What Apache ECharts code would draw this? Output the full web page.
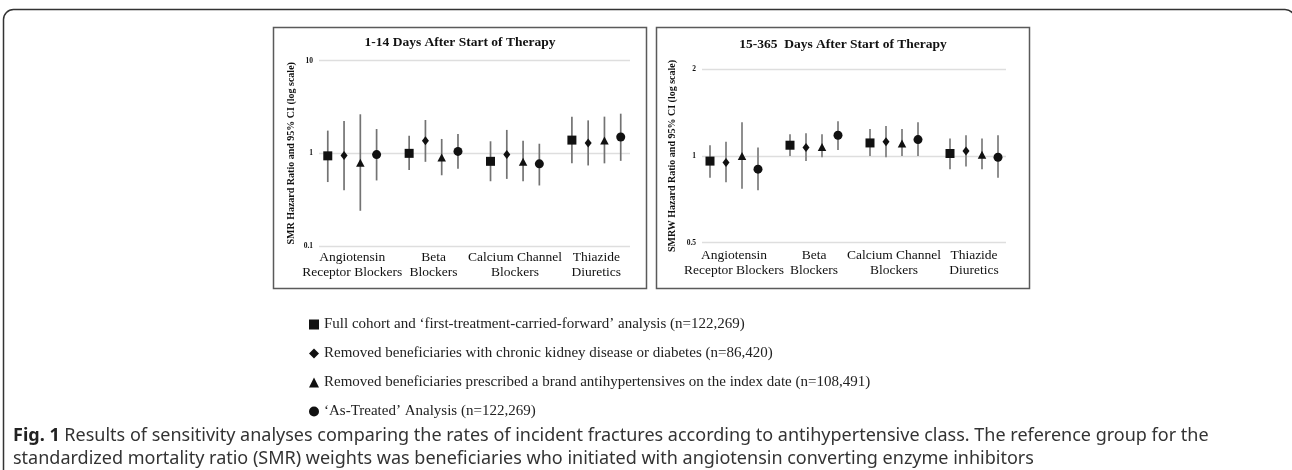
<!DOCTYPE html>
<html>
<head>
<meta charset="utf-8">
<script src="https://cdn.jsdelivr.net/npm/echarts@6/dist/echarts.min.js"></script>
<style>
html,body{margin:0;padding:0;background:#fff;}
#chart{width:1292px;height:470px;}
</style>
</head>
<body>
<div id="chart"></div>
<script>
// ---- data ----
const categories = ['Angiotensin\nReceptor Blockers', 'Beta\nBlockers', 'Calcium Channel\nBlockers', 'Thiazide\nDiuretics'];
const seriesNames = [
  'Full cohort and \u2018first-treatment-carried-forward\u2019 analysis (n=122,269)',
  'Removed beneficiaries with chronic kidney disease or diabetes (n=86,420)',
  'Removed beneficiaries prescribed a brand antihypertensives on the index date (n=108,491)',
  '\u2018As-Treated\u2019 Analysis (n=122,269)'
];
const panelTitles = ['1-14 Days After Start of Therapy', '15-365  Days After Start of Therapy'];
const yAxisNames = ['SMR Hazard Ratio and 95% CI (log scale)', 'SMRW Hazard Ratio and 95% CI (log scale)'];
const earlyTicks = [0.1, 1, 10];
const lateTicks = [0.5, 1, 2];

// 1-14 days (left panel)
const earlyFullEst = [0.94, 1.00, 0.82, 1.39];
const earlyFullLo = [0.49, 0.66, 0.50, 0.78];
const earlyFullHi = [1.76, 1.55, 1.35, 2.49];
const earlyCkdEst = [0.95, 1.37, 0.97, 1.29];
const earlyCkdLo = [0.40, 0.81, 0.53, 0.74];
const earlyCkdHi = [2.23, 2.29, 1.79, 2.27];
const earlyBrandEst = [0.79, 0.90, 0.81, 1.38];
const earlyBrandLo = [0.24, 0.58, 0.50, 0.78];
const earlyBrandHi = [2.64, 1.43, 1.37, 2.49];
const earlyTreatedEst = [0.97, 1.05, 0.77, 1.50];
const earlyTreatedLo = [0.51, 0.68, 0.45, 0.83];
const earlyTreatedHi = [1.83, 1.62, 1.27, 2.68];

// 15-365 days (right panel)
const lateFullEst = [0.96, 1.09, 1.11, 1.02];
const lateFullLo = [0.84, 1.00, 1.00, 0.90];
const lateFullHi = [1.09, 1.19, 1.24, 1.15];
const lateCkdEst = [0.95, 1.07, 1.12, 1.04];
const lateCkdLo = [0.81, 0.96, 0.99, 0.92];
const lateCkdHi = [1.12, 1.20, 1.27, 1.18];
const lateBrandEst = [1.00, 1.075, 1.105, 1.01];
const lateBrandLo = [0.77, 0.99, 1.00, 0.90];
const lateBrandHi = [1.31, 1.19, 1.24, 1.15];
const lateTreatedEst = [0.90, 1.18, 1.14, 0.99];
const lateTreatedLo = [0.76, 1.05, 1.00, 0.84];
const lateTreatedHi = [1.07, 1.32, 1.31, 1.18];

// ---- styling ----
const SERIF = '"Liberation Serif","Times New Roman",serif';
const SANS = '"Noto Sans",sans-serif';
const symbols = ['rect', 'diamond', 'triangle', 'circle'];
const symbolSizes = [[9, 9], [7, 9], [8.5, 8], [9, 9]];
const offsets = [-0.3, -0.1, 0.1, 0.3];

const earlySets = [
  [earlyFullEst, earlyFullLo, earlyFullHi],
  [earlyCkdEst, earlyCkdLo, earlyCkdHi],
  [earlyBrandEst, earlyBrandLo, earlyBrandHi],
  [earlyTreatedEst, earlyTreatedLo, earlyTreatedHi]
];
const lateSets = [
  [lateFullEst, lateFullLo, lateFullHi],
  [lateCkdEst, lateCkdLo, lateCkdHi],
  [lateBrandEst, lateBrandLo, lateBrandHi],
  [lateTreatedEst, lateTreatedLo, lateTreatedHi]
];

const panels = [
  {sets: earlySets, base: 10, ticks: earlyTicks, grid: {left: 319, width: 311, top: 60.7, height: 185.3}, band: {left: 311.5, width: 325.5}, errColor: '#737373', errWidth: 1.7, nameGap: 23, labMargin: 4},
  {sets: lateSets, base: 2, ticks: lateTicks, grid: {left: 702, width: 304, top: 69.3, height: 173.4}, band: {left: 694, width: 320}, errColor: '#8f8f8f', errWidth: 2, nameGap: 25, labMargin: 5}
];

const grids = [], xAxes = [], yAxes = [], series = [];
panels.forEach((p, pi) => {
  const gGrid = grids.length;
  grids.push({left: p.grid.left, width: p.grid.width, top: p.grid.top, height: p.grid.height, containLabel: false});
  const gBand = grids.length;
  grids.push({left: p.band.left, width: p.band.width, top: p.grid.top, height: p.grid.height, containLabel: false});
  xAxes.push({gridIndex: gGrid, type: 'value', min: 0, max: 1, show: false});
  xAxes.push({
    gridIndex: gBand, type: 'category', data: categories, boundaryGap: true,
    axisLine: {show: false}, axisTick: {show: false}, splitLine: {show: false},
    axisLabel: {fontFamily: SERIF, fontSize: 13.5, color: '#111', lineHeight: 15, margin: p.labMargin, interval: 0}
  });
  const xValIdx = xAxes.length;
  xAxes.push({gridIndex: gBand, type: 'value', min: -0.5, max: 3.5, show: false});
  yAxes.push({
    gridIndex: gGrid, type: 'log', logBase: p.base, min: p.ticks[0], max: p.ticks[2],
    axisLine: {show: false}, axisTick: {show: false},
    splitLine: {show: true, lineStyle: {color: '#dedede', width: 1.3}},
    axisLabel: {fontFamily: SERIF, fontWeight: 'bold', fontSize: 7.5, color: '#111', margin: 6,
      formatter: v => String(+Number(v).toPrecision(6))},
    name: yAxisNames[pi], nameLocation: 'middle', nameRotate: 90, nameGap: p.nameGap,
    nameTextStyle: {fontFamily: SERIF, fontWeight: 'bold', fontSize: 10, color: '#111'}
  });
  const yValIdx = yAxes.length;
  yAxes.push({gridIndex: gBand, type: 'log', logBase: p.base, min: p.ticks[0], max: p.ticks[2], show: false});

  p.sets.forEach((set, si) => {
    const [est, lo, hi] = set;
    const errData = categories.map((c, i) => [i + offsets[si], lo[i], hi[i]]);
    const ptData = categories.map((c, i) => [i + offsets[si], est[i]]);
    series.push({
      type: 'custom', name: 'err' + pi + '_' + si, xAxisIndex: xValIdx, yAxisIndex: yValIdx, z: 2,
      silent: true, data: errData, encode: {x: 0, y: [1, 2]},
      renderItem: (params, api) => {
        const a = api.coord([api.value(0), api.value(1)]);
        const b = api.coord([api.value(0), api.value(2)]);
        return {type: 'line', shape: {x1: a[0], y1: a[1], x2: b[0], y2: b[1]},
          style: {stroke: p.errColor, lineWidth: p.errWidth}};
      }
    });
    series.push({
      type: 'scatter', name: seriesNames[si], xAxisIndex: xValIdx, yAxisIndex: yValIdx, z: 3,
      symbol: symbols[si], symbolSize: symbolSizes[si], data: ptData,
      itemStyle: {color: '#111', opacity: 1}
    });
  });
});

const chart = echarts.init(document.getElementById('chart'), null, {renderer: 'canvas'});
chart.setOption({
  animation: false,
  backgroundColor: '#fff',
  grid: grids,
  xAxis: xAxes,
  yAxis: yAxes,
  legend: {
    data: seriesNames.map((n, i) => ({name: n, icon: symbols[i]})),
    orient: 'vertical', left: 304, top: 311, itemWidth: 10, itemHeight: 10, itemGap: 12,
    selectedMode: false,
    textStyle: {fontFamily: SERIF, fontSize: 15, color: '#222', lineHeight: 17}
  },
  series: series,
  graphic: [
    {type: 'rect', silent: true, shape: {x: 3.5, y: 9.5, width: 1291.5, height: 520, r: 10},
      style: {fill: 'none', stroke: '#333', lineWidth: 1.5}},
    {type: 'rect', silent: true, shape: {x: 273.5, y: 27.5, width: 373, height: 261},
      style: {fill: 'none', stroke: '#5a5a5a', lineWidth: 1.5}},
    {type: 'rect', silent: true, shape: {x: 656.5, y: 27.5, width: 373, height: 261},
      style: {fill: 'none', stroke: '#5a5a5a', lineWidth: 1.5}},
    {type: 'text', silent: true, x: 460, y: 43,
      style: {text: panelTitles[0], fontFamily: SERIF, fontWeight: 'bold', fontSize: 13.5, fill: '#111', textAlign: 'center', textVerticalAlign: 'middle'}},
    {type: 'text', silent: true, x: 843, y: 45,
      style: {text: panelTitles[1], fontFamily: SERIF, fontWeight: 'bold', fontSize: 13.5, fill: '#111', textAlign: 'center', textVerticalAlign: 'middle'}},
    {type: 'text', silent: true, x: 13, y: 436,
      style: {text: '{b|Fig. 1} Results of sensitivity analyses comparing the rates of incident fractures according to antihypertensive class. The reference group for the',
        rich: {b: {fontFamily: SANS, fontWeight: 'bold', fontSize: 18, fill: '#222'}},
        fontFamily: SANS, fontSize: 18, fill: '#333', textVerticalAlign: 'middle'}},
    {type: 'text', silent: true, x: 13, y: 459,
      style: {text: 'standardized mortality ratio (SMR) weights was beneficiaries who initiated with angiotensin converting enzyme inhibitors',
        fontFamily: SANS, fontSize: 18, fill: '#333', textVerticalAlign: 'middle'}}
  ]
});
</script>
</body>
</html>
